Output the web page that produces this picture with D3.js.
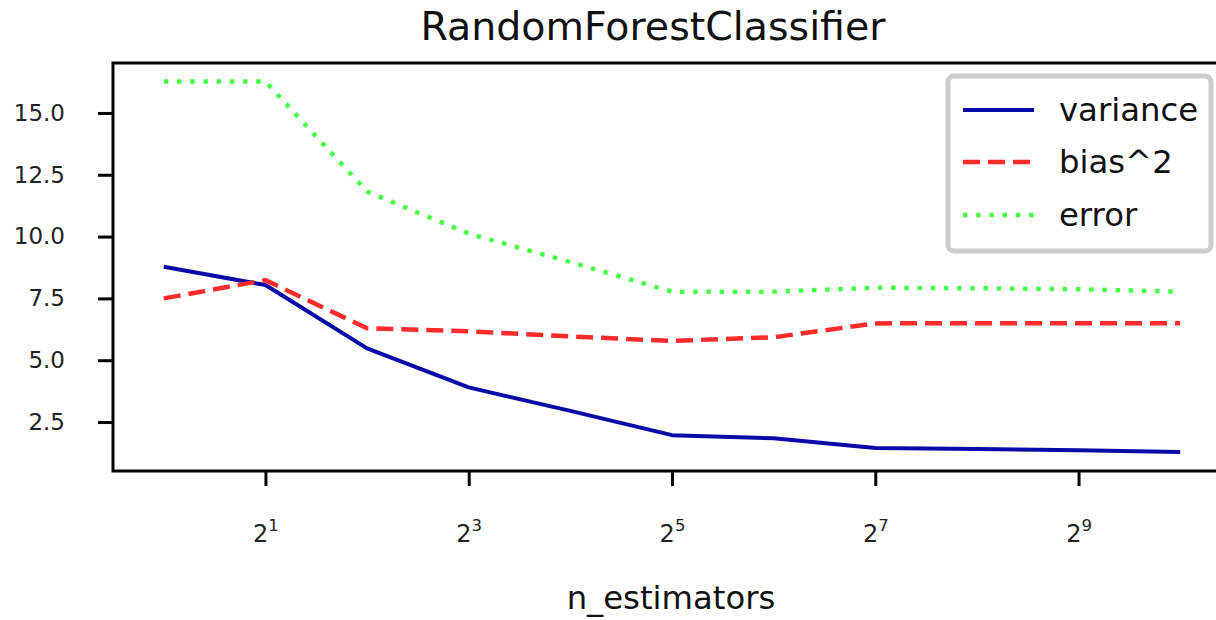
<!DOCTYPE html>
<html lang="en">
<head>
<meta charset="UTF-8">
<title>RandomForestClassifier</title>
<script src="https://cdn.jsdelivr.net/npm/d3@7"></script>
<style>
    body { margin: 0; background: #fff; }
    svg { display: block; font-family: "DejaVu Sans", sans-serif; }
</style>
</head>
<body>
<script>
// values
const nEstimators = [1, 2, 4, 8, 16, 32, 64, 128, 256, 512, 1024]
const variance = [8.78, 8.04, 5.48, 3.90, 2.95, 1.97, 1.84, 1.45, 1.41, 1.36, 1.29]
const bias2 = [7.50, 8.24, 6.29, 6.17, 5.96, 5.78, 5.93, 6.49, 6.50, 6.50, 6.50]
const error = [16.27, 16.27, 11.82, 10.12, 8.97, 7.77, 7.77, 7.93, 7.91, 7.87, 7.77]

const yTicks = [2.5, 5.0, 7.5, 10.0, 12.5, 15.0]
const xTickExps = [1, 3, 5, 7, 9]

const seriesNames = ['variance', 'bias^2', 'error']
const seriesValues = [variance, bias2, error]

const width = 1216
const height = 620
const margin = { top: 63, right: -15, bottom: 149, left: 113 }

const styles = [
    { color: '#0a0aa8', dash: null, w: 4 },
    { color: '#ff2b2b', dash: '17,8', w: 4.5 },
    { color: '#47ff47', dash: '4.5,8.7', w: 4.5 }
]

const svg = d3.select('body').append('svg')
    .attr('width', width)
    .attr('height', height)

const xScale = d3.scaleLog().base(2)
    .domain([Math.pow(2, -0.5), Math.pow(2, 10.5)])
    .range([margin.left, width - margin.right])

const yScale = d3.scaleLinear()
    .domain([0.52, 17.02])
    .range([height - margin.bottom, margin.top])

// title
svg.append('text')
    .attr('x', 653)
    .attr('y', 40)
    .attr('text-anchor', 'middle')
    .attr('font-size', 39.5)
    .attr('fill', '#111')
    .text('RandomForestClassifier')

// lines
const line = d3.line()
    .x((d) => xScale(d[0]))
    .y((d) => yScale(d[1]))

const plot = svg.append('g')

seriesValues.forEach((vals, i) => {
    plot.append('path')
        .datum(nEstimators.map((n, j) => [n, vals[j]]))
        .attr('d', line)
        .attr('fill', 'none')
        .attr('stroke', styles[i].color)
        .attr('stroke-width', styles[i].w)
        .attr('stroke-dasharray', styles[i].dash)
        .attr('stroke-linejoin', 'round')
})

// frame
svg.append('rect')
    .attr('x', margin.left)
    .attr('y', margin.top)
    .attr('width', width - margin.right - margin.left)
    .attr('height', height - margin.bottom - margin.top)
    .attr('fill', 'none')
    .attr('stroke', '#000')
    .attr('stroke-width', 3)

// y axis
const yAxis = d3.axisLeft(yScale)
    .tickValues(yTicks)
    .tickFormat(d3.format('.1f'))
    .tickSize(15)
    .tickPadding(33)

const yG = svg.append('g')
    .attr('transform', `translate(${margin.left}, 0)`)
    .call(yAxis)
yG.select('.domain').remove()
yG.selectAll('.tick line').attr('stroke', '#000').attr('stroke-width', 3)
yG.selectAll('.tick text')
    .attr('font-size', 23)
    .attr('fill', '#222')
    .attr('font-family', 'DejaVu Sans')

// x axis
const xAxis = d3.axisBottom(xScale)
    .tickValues(xTickExps.map((e) => Math.pow(2, e)))
    .tickSize(15)
    .tickFormat('')

const xG = svg.append('g')
    .attr('transform', `translate(0, ${height - margin.bottom})`)
    .call(xAxis)
xG.select('.domain').remove()
xG.selectAll('.tick line').attr('stroke', '#000').attr('stroke-width', 3)

xG.selectAll('.tick').each(function (d) {
    const t = d3.select(this).append('text')
        .attr('y', 71)
        .attr('x', 0)
        .attr('text-anchor', 'middle')
        .attr('fill', '#222')
        .attr('font-size', 24)
        .attr('font-family', 'DejaVu Sans')
    t.append('tspan').text('2')
    t.append('tspan')
        .attr('font-size', 16.5)
        .attr('dy', -11)
        .text(Math.round(Math.log2(d)))
})

// x label
svg.append('text')
    .attr('x', 671)
    .attr('y', 609)
    .attr('text-anchor', 'middle')
    .attr('font-size', 32.3)
    .attr('fill', '#111')
    .text('n_estimators')

// legend
const legend = svg.append('g')
legend.append('rect')
    .attr('x', 948)
    .attr('y', 76)
    .attr('width', 263)
    .attr('height', 175)
    .attr('rx', 6)
    .attr('fill', '#fff')
    .attr('fill-opacity', 0.85)
    .attr('stroke', '#cccccc')
    .attr('stroke-width', 5)

const rowY = [110, 162, 215]
seriesNames.forEach((name, i) => {
    legend.append('line')
        .attr('x1', 963)
        .attr('x2', 1034)
        .attr('y1', rowY[i])
        .attr('y2', rowY[i])
        .attr('stroke', styles[i].color)
        .attr('stroke-width', styles[i].w)
        .attr('stroke-dasharray', styles[i].dash)
    legend.append('text')
        .attr('x', 1059)
        .attr('y', rowY[i] + 11)
        .attr('font-size', 32.3)
        .attr('fill', '#111')
        .text(name)
})
</script>
</body>
</html>
